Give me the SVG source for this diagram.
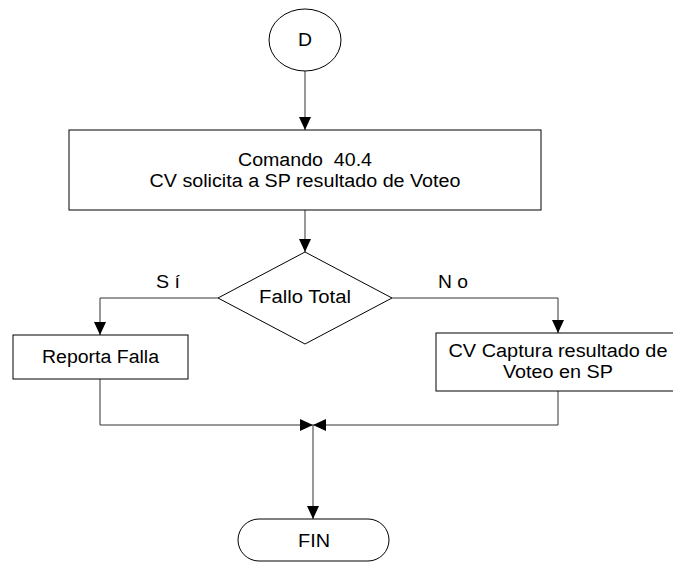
<svg xmlns="http://www.w3.org/2000/svg" width="673" height="563" viewBox="0 0 673 563">
<style>
.shape{fill:#fff;stroke:#000;stroke-width:1}
.conn{fill:none;stroke:#333;stroke-width:1}
text{font-family:"Liberation Sans",Arial,sans-serif;font-size:18px;fill:#000;text-anchor:middle;white-space:pre}
</style>
<defs>
<marker id="arr" viewBox="0 0 13 12" refX="13" refY="6" markerWidth="13" markerHeight="12" markerUnits="userSpaceOnUse" orient="auto">
<path d="M0,0 L13,6 L0,12 Z" fill="#000"/>
</marker>
</defs>
<rect width="673" height="563" fill="#fff"/>
<g id="connectors">
<path class="conn" d="M305,71 V130" marker-end="url(#arr)"/>
<path class="conn" d="M305,210 V252" marker-end="url(#arr)"/>
<path class="conn" d="M218,298 H100 V335" marker-end="url(#arr)"/>
<path class="conn" d="M392,298 H558 V333" marker-end="url(#arr)"/>
<path class="conn" d="M100,379 V425 H313" marker-end="url(#arr)"/>
<path class="conn" d="M558,391 V425 H313" marker-end="url(#arr)"/>
<path class="conn" d="M313,425 V519" marker-end="url(#arr)"/>
<text x="168" y="288" textLength="24" lengthAdjust="spacingAndGlyphs">S í</text>
<text x="453" y="288" textLength="30" lengthAdjust="spacingAndGlyphs">N o</text>
</g>
<g id="start">
<ellipse class="shape" cx="305" cy="40" rx="36" ry="31"/>
<text x="305" y="46" textLength="14" lengthAdjust="spacingAndGlyphs">D</text>
</g>
<g id="comando">
<rect class="shape" x="69" y="130" width="472" height="80"/>
<text x="305" y="166" textLength="134" lengthAdjust="spacingAndGlyphs">Comando  40.4</text>
<text x="305" y="187" textLength="311" lengthAdjust="spacingAndGlyphs">CV solicita a SP resultado de Voteo</text>
</g>
<g id="decision">
<polygon class="shape" points="305,252 392,298 305,344 218,298"/>
<text x="305" y="303" textLength="92" lengthAdjust="spacingAndGlyphs">Fallo Total</text>
</g>
<g id="reporta">
<rect class="shape" x="13" y="335" width="175" height="44"/>
<text x="100.5" y="363" textLength="117" lengthAdjust="spacingAndGlyphs">Reporta Falla</text>
</g>
<g id="captura">
<rect class="shape" x="436" y="333" width="250" height="58"/>
<text x="558" y="357" textLength="219" lengthAdjust="spacingAndGlyphs">CV Captura resultado de</text>
<text x="558" y="378" textLength="110" lengthAdjust="spacingAndGlyphs">Voteo en SP</text>
</g>
<g id="fin">
<rect class="shape" x="238" y="519" width="151" height="42" rx="21" ry="21"/>
<text x="314" y="547" textLength="32" lengthAdjust="spacingAndGlyphs">FIN</text>
</g>
</svg>
